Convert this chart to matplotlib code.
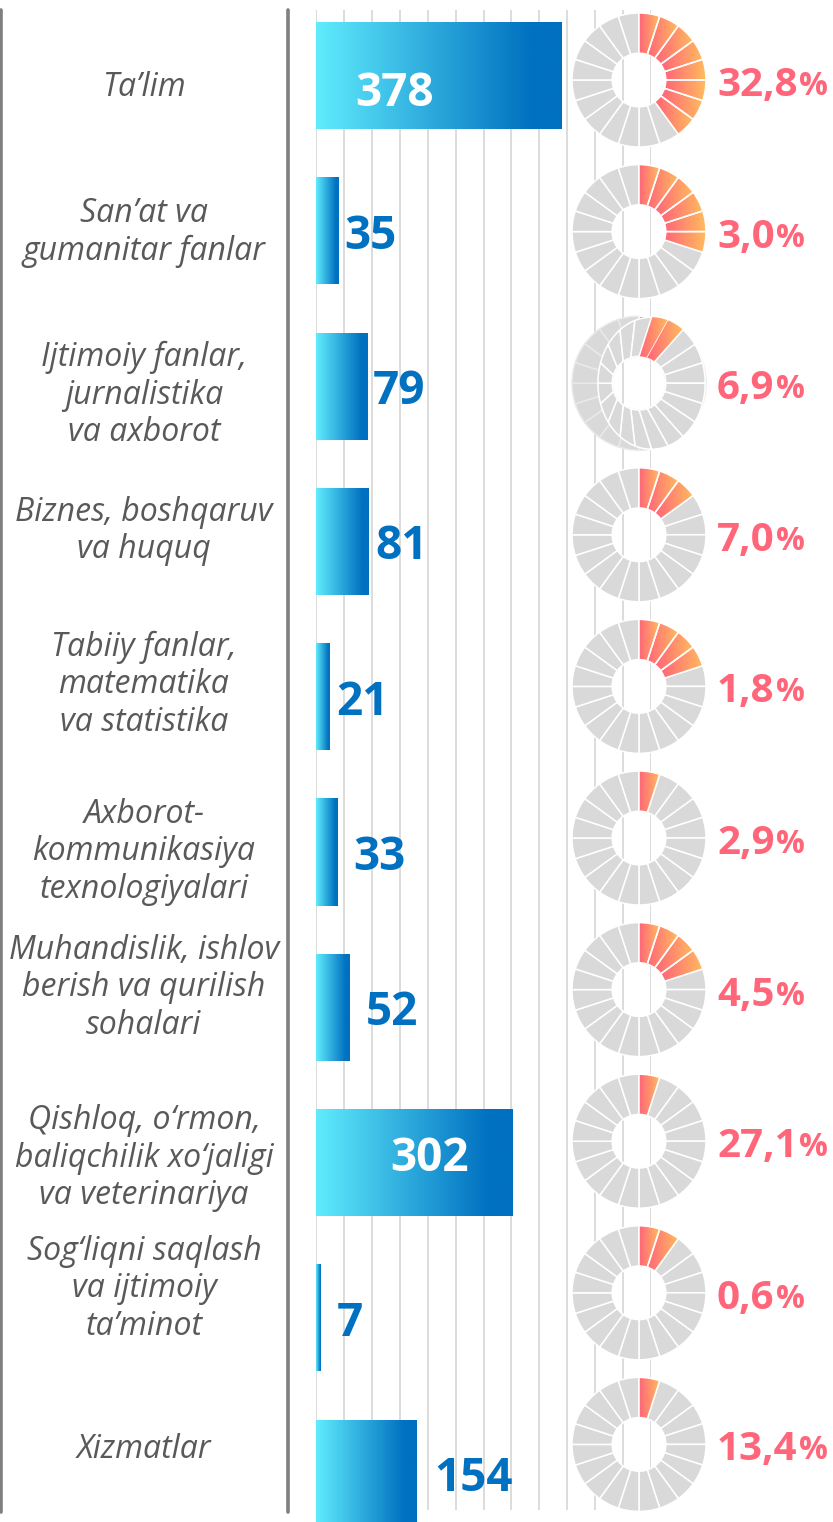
import numpy as np
import matplotlib
matplotlib.use('Agg')
import matplotlib.pyplot as plt
from matplotlib.colors import LinearSegmentedColormap
from matplotlib.lines import Line2D
from matplotlib.patches import Polygon

# data
categories = [
    "Ta\u2019lim",
    "San\u2019at va\ngumanitar fanlar",
    "Ijtimoiy fanlar,\njurnalistika\nva axborot",
    "Biznes, boshqaruv\nva huquq",
    "Tabiiy fanlar,\nmatematika\nva statistika",
    "Axborot-\nkommunikasiya\ntexnologiyalari",
    "Muhandislik, ishlov\nberish va qurilish\nsohalari",
    "Qishloq, o\u2018rmon,\nbaliqchilik xo\u2018jaligi\nva veterinariya",
    "Sog\u2018liqni saqlash\nva ijtimoiy\nta\u2019minot",
    "Xizmatlar",
]
counts = [378, 35, 79, 81, 21, 33, 52, 302, 7, 154]
shares = [32.8, 3.0, 6.9, 7.0, 1.8, 2.9, 4.5, 27.1, 0.6, 13.4]
# number of coloured ring segments (out of 20) drawn in each donut
filled_segments = [8, 6, 1, 3, 4, 1, 4, 1, 2, 1]
n_segments = 20

W, H = 833, 1522
fig = plt.figure(figsize=(W / 100, H / 100), dpi=100)
fig.patch.set_facecolor('white')

FONT = 'Open Sans'
BLUE = '#0070C0'
PINK = '#FF6679'
GREY = '#D9D9D9'
bar_cmap = LinearSegmentedColormap.from_list(
    'bar', [(0, '#60ECFD'), (0.88, BLUE), (1, BLUE)])
seg_cmap = LinearSegmentedColormap.from_list('seg', ['#FF6479', '#FFBC5E'])
grad = np.linspace(0, 1, 256).reshape(1, -1)


def fx(px):
    return px / W


def fy(py):
    return 1 - py / H


# ---- bars ----
bar_top, bar_step = 75.5, 155.3      # pixel centre of first row, row pitch
grid_left, grid_right = 316, 651
grid_step = 42.9
n = len(counts)

ax = fig.add_axes([fx(grid_left), fy(bar_top + (n - 0.5) * bar_step),
                   fx(grid_right - grid_left), n * bar_step / H])
ax.set_axis_off()
rows = np.arange(n)
bars = ax.barh(rows, counts, height=0.69, color='none', edgecolor='none', zorder=2)
for b in bars:
    x0, y0, w, h = b.get_x(), b.get_y(), b.get_width(), b.get_height()
    im = ax.imshow(grad, cmap=bar_cmap, extent=(x0, x0 + w, y0, y0 + h),
                   aspect='auto', interpolation='bicubic', zorder=2)
    im.set_clip_path(b)

grid_x = np.arange(13) * grid_step
ax.vlines(grid_x, (10 - bar_top) / bar_step, (1510 - bar_top) / bar_step,
          color=GREY, lw=1.3, zorder=0)
ax.set_xlim(0, 12 * grid_step)
ax.set_ylim(n - 0.5, -0.5)

# value labels
inside = [c > 250 for c in counts]
label_pad = [39, 5, 5, 7, 7, 16, 16, 74, 16, 18]
value_dy = {0: 15, 7: -8}
for i, c in enumerate(counts):
    dy = value_dy.get(i, 2)
    if inside[i]:
        xy, col = (0, i), 'white'
    else:
        xy, col = (c, i), BLUE
    ax.annotate(str(c), xy=xy, xytext=(label_pad[i], -16 - dy),
                textcoords='offset pixels', ha='left', va='baseline',
                fontsize=33, fontweight='bold', family=FONT, color=col, zorder=5)

# ---- category labels (left column) ----
row_top, row_step = 80, 151.6
lab_ax = fig.add_axes([0, fy(row_top + (n - 0.5) * row_step), fx(288), n * row_step / H])
lab_ax.set_axis_off()
lab_ax.set_xlim(0, 1)
lab_ax.set_ylim(n - 0.5, -0.5)
label_nudge = [8, 1, 12, -4, -2, 14, -2, 17, -4, 5]
for i, lab in enumerate(categories):
    lab_ax.text(0.5, i + label_nudge[i] / row_step, lab, ha='center', va='center',
                multialignment='center', fontsize=23, style='italic',
                family=FONT, color='#595959', linespacing=1.18)

for xpx in (1.3, 288):
    fig.add_artist(Line2D([fx(xpx)] * 2, [fy(10), fy(1512)], transform=fig.transFigure,
                          color='#7F7F7F', lw=2.6, solid_capstyle='round'))

# ---- donuts ----
donut_cx, donut_r = 639, 67
lim = 1.05
hole = 0.4


def paint(axd, patch):
    ext = patch.get_path().get_extents(patch.get_patch_transform())
    im = axd.imshow(grad, cmap=seg_cmap, extent=(ext.x0, ext.x1, ext.y0, ext.y1),
                    aspect='auto', interpolation='bicubic', zorder=3)
    im.set_clip_path(patch)
    patch.set_facecolor('none')
    patch.set_zorder(4)


donut_axes = []
for i in range(n):
    cy = row_top + i * row_step
    side = 2 * lim * donut_r
    axd = fig.add_axes([fx(donut_cx - side / 2), fy(cy + side / 2), fx(side), side / H])
    k = filled_segments[i]
    edge = '#E9E9E9' if i == 2 else 'white'
    wedges, _ = axd.pie([1] * n_segments, colors=[GREY] * n_segments, startangle=90,
                        counterclock=False, radius=1,
                        wedgeprops=dict(width=1 - hole, edgecolor=edge, linewidth=1.1))
    for wdg in wedges[:k]:
        wdg.set_edgecolor('white')
        paint(axd, wdg)
    axd.set_xlim(-lim, lim)
    axd.set_ylim(-lim, lim)
    axd.set_aspect('equal')
    axd.set_axis_off()

    txt = axd.text((717 - donut_cx) / donut_r, -16 / donut_r,
                   f"{shares[i]:.1f}".replace('.', ','), ha='left', va='baseline',
                   fontsize=29, fontweight='bold', family=FONT, color=PINK, zorder=6)
    axd.annotate('%', xy=(1, 0), xycoords=txt, xytext=(1, 1.5),
                 textcoords='offset points', ha='left', va='bottom',
                 fontsize=23, fontweight='bold', family=FONT, color=PINK, zorder=6)
    donut_axes.append(axd)

# the third ring in the source has a shifted, squeezed second ring drawn over it:
# outer edge is an ellipse moved to the right, inner edge is the normal hole
base = donut_axes[2]
ell_cx, ell_a, ell_b = 0.187, 0.80, 0.985
over_filled = 2
step = 2 * np.pi / n_segments
for j in range(n_segments):
    t = np.linspace(j * step, (j + 1) * step, 20)
    outer = np.column_stack([ell_cx + ell_a * np.sin(t), ell_b * np.cos(t)])
    inner = np.column_stack([hole * np.sin(t[::-1]), hole * np.cos(t[::-1])])
    seg = Polygon(np.vstack([outer, inner]), closed=True, facecolor=GREY,
                  edgecolor='white', linewidth=1.1, zorder=5)
    base.add_patch(seg)
    if j < over_filled:
        paint(base, seg)
        seg.set_zorder(5)
        for im in base.images[-1:]:
            im.set_zorder(5)

fig.savefig('out.png', dpi=100)
